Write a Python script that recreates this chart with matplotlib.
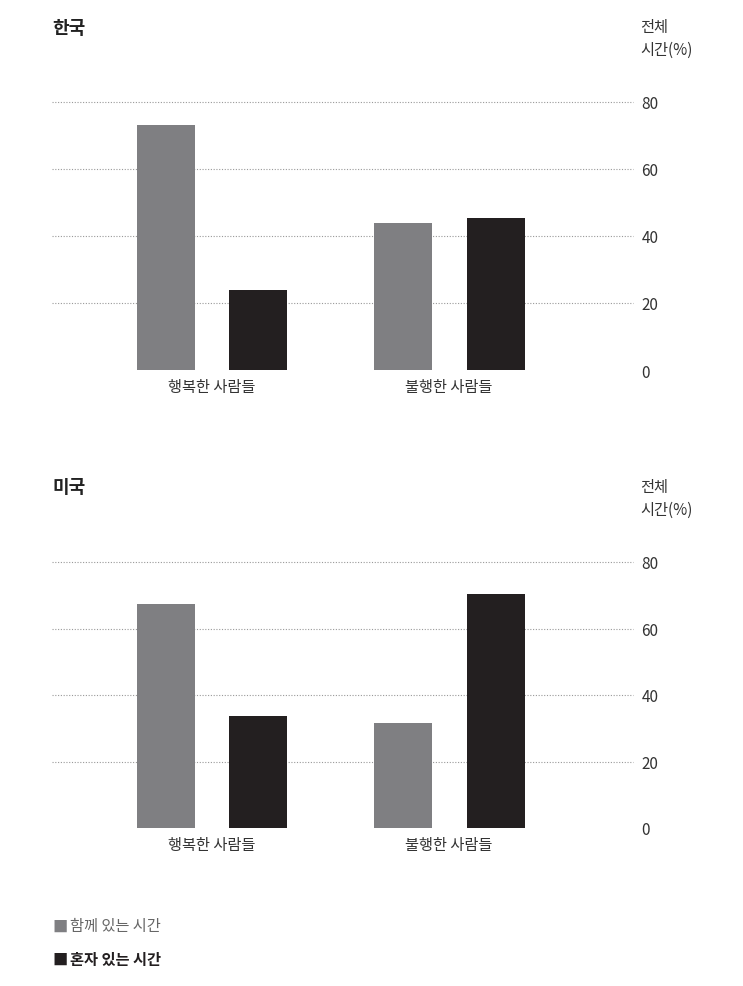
import matplotlib
matplotlib.use("Agg")
import matplotlib.pyplot as plt

plt.rcParams['font.family'] = ['Noto Sans CJK KR', 'DejaVu Sans']

groups = ["행복한 사람들", "불행한 사람들"]
series = ["함께 있는 시간", "혼자 있는 시간"]
korea_together = [73.1, 43.9]
korea_alone = [23.9, 45.4]
usa_together = [67.4, 31.6]
usa_alone = [33.7, 70.4]
yticks = [0, 20, 40, 60, 80]
titles = ["한국", "미국"]

gray = "#7f7f82"
black = "#231f20"
txt = "#333333"

W, H = 743, 987
fig = plt.figure(figsize=(W/100, H/100), dpi=100)

def add_panel(y0, y80, title, together, alone):
    ax = fig.add_axes([52/W, 1 - y0/H, (633-52)/W, (y0-y80)/H])
    tpos = [0, 2.58]
    apos = [1, 3.59]
    ax.bar(tpos, together, width=0.63, color=gray, zorder=3)
    ax.bar(apos, alone, width=0.63, color=black, zorder=3)
    ax.set_xlim(-1.24, 5.08)
    ax.set_ylim(0, 80)
    for v in yticks[1:]:
        ax.axhline(v, color="#999999", lw=0.8, ls=(0, (1, 1.5)), zorder=1, clip_on=False)
    for s in ax.spines.values():
        s.set_visible(False)
    ax.yaxis.tick_right()
    ax.set_yticks(yticks)
    ax.set_yticklabels([str(v) for v in yticks], fontsize=11, color=txt)
    ax.tick_params(axis='y', length=0, pad=6)
    ax.set_xticks([0.5, 3.08])
    ax.set_xticklabels(groups, fontsize=11, color=txt)
    ax.tick_params(axis='x', length=0, pad=6)
    fig.text(52/W, 1 - (y80-75)/H, title, fontsize=13, fontweight='bold', color="#222222", va='center')
    fig.text(640/W, 1 - (y80-64)/H, "전체\n시간(%)", fontsize=11, color=txt, va='center', ha='left', linespacing=1.4)

add_panel(371, 103, titles[0], korea_together, korea_alone)
add_panel(829, 563, titles[1], usa_together, usa_alone)

fig.text(52/W, 1 - 927/H, "■", fontsize=11, color=gray, va='center')
fig.text(70/W, 1 - 927/H, series[0], fontsize=11, color="#666666", va='center')
fig.text(52/W, 1 - 960/H, "■", fontsize=11, color=black, va='center')
fig.text(70/W, 1 - 960/H, series[1], fontsize=11, color=black, fontweight='bold', va='center')

fig.savefig("out.png", dpi=100, facecolor="white")
